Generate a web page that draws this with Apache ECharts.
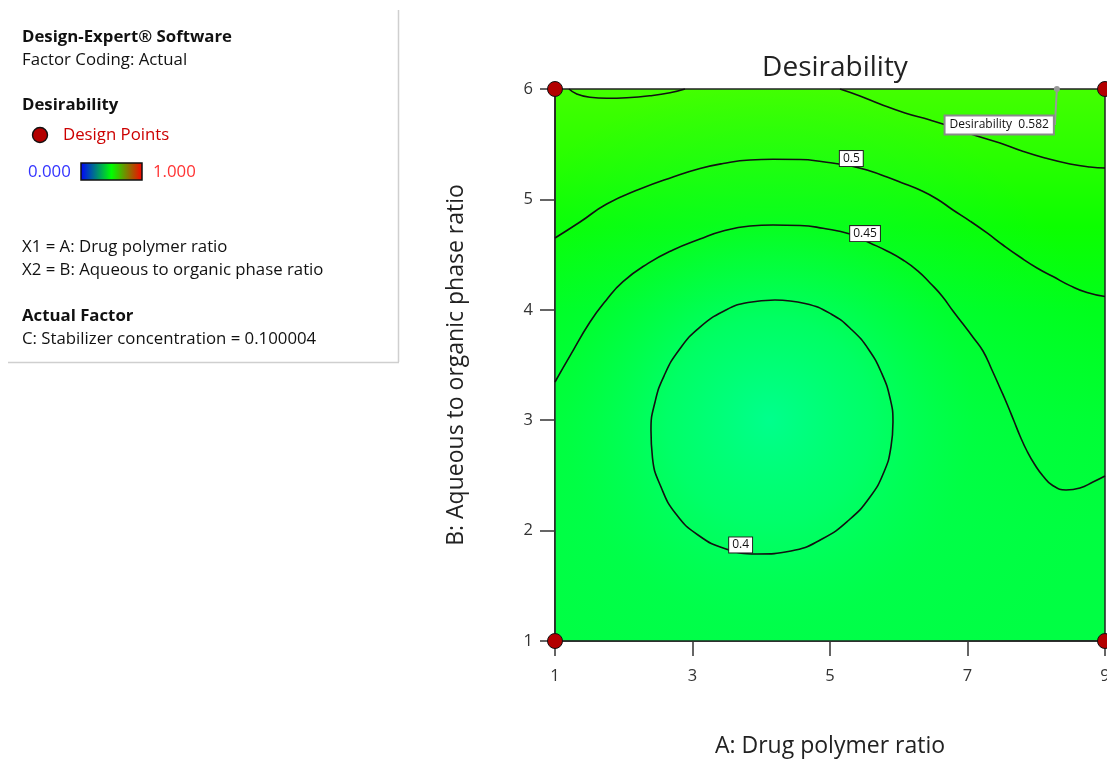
<!DOCTYPE html>
<html>
<head>
<meta charset="utf-8">
<script src="https://cdn.jsdelivr.net/npm/echarts@6/dist/echarts.min.js"></script>
<style>
  html, body { margin: 0; padding: 0; background: #fff; }
  #chart { width: 1107px; height: 762px; }
</style>
</head>
<body>
<div id="chart"></div>
<script>
// ---------- data ----------
const chartTitle = 'Desirability';
const xAxisName = 'A: Drug polymer ratio';
const yAxisName = 'B: Aqueous to organic phase ratio';
const xRange = [1, 9], xStep = 2;
const yRange = [1, 6], yStep = 1;

const designPoints = [[1, 6], [9, 6], [1, 1], [9, 1]];

// contour lines, (A, B) pairs
const contour055Left = [[1.204, 6.0], [1.316, 5.955], [1.509, 5.925], [1.752, 5.916], [2.043, 5.921],
                        [2.382, 5.939], [2.673, 5.966], [2.891, 6.0]];
const contour055Right = [[5.145, 6.0], [5.436, 5.937], [5.727, 5.864], [6.091, 5.783], [6.455, 5.719],
                         [6.818, 5.647], [7.138, 5.574], [7.473, 5.511], [7.793, 5.438], [8.127, 5.375],
                         [8.491, 5.321], [8.782, 5.293], [9.0, 5.284]];
const contour050 = [[1.0, 4.650], [1.364, 4.795], [1.752, 4.958], [2.236, 5.094], [2.716, 5.203], [3.109, 5.280],
                    [3.444, 5.325], [3.836, 5.357], [4.171, 5.363], [4.564, 5.361], [4.898, 5.341], [5.305, 5.303],
                    [5.582, 5.257], [5.829, 5.203], [6.091, 5.139], [6.309, 5.085], [6.556, 5.004], [6.789, 4.904],
                    [7.036, 4.804], [7.284, 4.696], [7.516, 4.587], [7.764, 4.478], [8.011, 4.379], [8.244, 4.301],
                    [8.491, 4.219], [8.738, 4.156], [9.0, 4.120]];
const contour045 = [[1.0, 3.346], [1.218, 3.582], [1.509, 3.889], [1.742, 4.085], [1.989, 4.255], [2.353, 4.420],
                    [2.716, 4.542], [3.109, 4.641], [3.444, 4.714], [3.836, 4.759], [4.171, 4.768], [4.564, 4.764],
                    [4.898, 4.738], [5.291, 4.687], [5.582, 4.605], [5.829, 4.533], [6.062, 4.451], [6.280, 4.351],
                    [6.455, 4.243], [6.629, 4.125], [6.789, 3.989], [6.935, 3.871], [7.080, 3.752], [7.225, 3.627],
                    [7.356, 3.455], [7.473, 3.292], [7.575, 3.147], [7.676, 2.993], [7.764, 2.857], [7.865, 2.721],
                    [7.982, 2.594], [8.098, 2.495], [8.229, 2.413], [8.433, 2.368], [8.636, 2.386], [8.825, 2.440],
                    [9.0, 2.495]];
const contour040 = [[4.200, 4.089], [4.636, 4.057], [5.015, 3.962], [5.320, 3.817], [5.567, 3.636], [5.756, 3.419],
                    [5.873, 3.201], [5.916, 2.984], [5.887, 2.758], [5.785, 2.531], [5.582, 2.304], [5.276, 2.096],
                    [4.884, 1.924], [4.433, 1.815], [3.938, 1.788], [3.487, 1.833], [3.080, 1.960], [2.760, 2.150],
                    [2.542, 2.395], [2.418, 2.658], [2.396, 2.911], [2.455, 3.165], [2.585, 3.400], [2.804, 3.636],
                    [3.109, 3.844], [3.487, 3.998], [3.807, 4.066], [4.200, 4.089]];
const contourLabelPos = [[5.31, 5.37], [5.51, 4.69], [3.70, 1.87]];
const contourLabelText = ['0.5', '0.45', '0.4'];

const flagPoint = [8.3, 6];
const flagText = 'Desirability  0.582';

const legendLines = [
  { text: 'Design-Expert® Software', bold: true, y: 37 },
  { text: 'Factor Coding: Actual', bold: false, y: 60 },
  { text: 'Desirability', bold: true, y: 105 },
  { text: 'X1 = A: Drug polymer ratio', bold: false, y: 247 },
  { text: 'X2 = B: Aqueous to organic phase ratio', bold: false, y: 270 },
  { text: 'Actual Factor', bold: true, y: 316 },
  { text: 'C: Stabilizer concentration = 0.100004', bold: false, y: 339 }
];
const rampLow = '0.000', rampHigh = '1.000';
const designLabel = 'Design Points';

// ---------- chart ----------
const FONT = '"Open Sans", "Noto Sans", sans-serif';
const PANEL_SIZE = 16.8;
const chart = echarts.init(document.getElementById('chart'), null, { renderer: 'canvas' });

function panelText(txt, x, y, color, bold) {
  return {
    type: 'text', x: x, y: y,
    style: { text: txt, fill: color, font: (bold ? 'bold ' : '') + PANEL_SIZE + 'px ' + FONT,
             verticalAlign: 'middle', align: 'left' }
  };
}
const panelGraphics = legendLines.map(l => panelText(l.text, 22, l.y, '#111', l.bold));
panelGraphics.push(
  { type: 'circle', shape: { cx: 40, cy: 135, r: 7.5 }, style: { fill: '#b30000', stroke: '#111', lineWidth: 1.4 } },
  panelText(designLabel, 63, 135, '#cc0000', false),
  panelText(rampLow, 28, 172, '#3333ff', false),
  { type: 'rect', shape: { x: 81, y: 163, width: 61, height: 17 },
    style: { stroke: '#111', lineWidth: 1.5,
      fill: new echarts.graphic.LinearGradient(0, 0, 1, 0, [
        { offset: 0, color: '#0000ff' }, { offset: 0.5, color: '#00ff00' }, { offset: 1, color: '#ff0000' }]) } },
  panelText(rampHigh, 153, 172, '#ff3333', false),
  { type: 'line', shape: { x1: 398.5, y1: 10, x2: 398.5, y2: 362 }, style: { stroke: '#cfcfcf', lineWidth: 1.5 } },
  { type: 'line', shape: { x1: 8, y1: 362.5, x2: 399, y2: 362.5 }, style: { stroke: '#cfcfcf', lineWidth: 1.5 } }
);

function contourSeries(data) {
  return {
    type: 'line', data: data, smooth: 0.5, symbol: 'none', clip: true, z: 3,
    lineStyle: { color: '#111', width: 1.6 }, silent: true
  };
}

const option = {
  animation: false,
  backgroundColor: '#ffffff',
  title: {
    text: chartTitle, left: 830, top: 49, textAlign: 'center',
    textStyle: { fontFamily: FONT, fontSize: 28, fontWeight: 'normal', color: '#222' }
  },
  grid: {
    left: 555, top: 89, right: 2, bottom: 121, show: true,
    outerBoundsMode: 'none', containLabel: false,
    borderColor: '#222', borderWidth: 1.5,
    backgroundColor: new echarts.graphic.LinearGradient(0, 0, 0, 1, [
      { offset: 0, color: '#44ff00' },
      { offset: 0.12, color: '#2aff00' },
      { offset: 0.25, color: '#0cff00' },
      { offset: 0.4, color: '#00ff1c' },
      { offset: 0.6, color: '#00ff34' },
      { offset: 0.8, color: '#00ff40' },
      { offset: 1, color: '#00ff44' }
    ])
  },
  xAxis: {
    type: 'value', min: xRange[0], max: xRange[1], interval: xStep,
    name: xAxisName, nameLocation: 'middle', nameGap: 94,
    nameTextStyle: { fontFamily: FONT, fontSize: 23, color: '#222' },
    axisLine: { show: true, lineStyle: { color: '#222', width: 1.5 } },
    axisTick: { show: true, inside: false, length: 15, lineStyle: { color: '#333', width: 1.5 } },
    axisLabel: { margin: 27, fontFamily: FONT, fontSize: 16.5, color: '#333' },
    splitLine: { show: false }
  },
  yAxis: {
    type: 'value', min: yRange[0], max: yRange[1], interval: yStep,
    name: yAxisName, nameLocation: 'middle', nameGap: 87,
    nameTextStyle: { fontFamily: FONT, fontSize: 23, color: '#222' },
    axisLine: { show: true, lineStyle: { color: '#222', width: 1.5 } },
    axisTick: { show: true, inside: false, length: 15, lineStyle: { color: '#333', width: 1.5 } },
    axisLabel: { margin: 22, fontFamily: FONT, fontSize: 16.5, color: '#333' },
    splitLine: { show: false }
  },
  graphic: panelGraphics,
  series: [
    // radial glow around the low region of the surface
    {
      type: 'line', data: [], silent: true, z: 1,
      markArea: {
        silent: true,
        itemStyle: {
          opacity: 1,
          color: new echarts.graphic.RadialGradient(0.39, 0.6, 0.62, [
            { offset: 0, color: 'rgba(0,255,140,1)' },
            { offset: 0.3, color: 'rgba(0,255,120,0.75)' },
            { offset: 0.6, color: 'rgba(0,255,90,0.3)' },
            { offset: 1, color: 'rgba(0,255,70,0)' }
          ])
        },
        data: [[{ coord: [xRange[0], yRange[0]] }, { coord: [xRange[1], yRange[1]] }]]
      }
    },
    contourSeries(contour055Left),
    contourSeries(contour055Right),
    contourSeries(contour050),
    contourSeries(contour045),
    contourSeries(contour040),
    {
      type: 'scatter', z: 5, symbolSize: 0, silent: true,
      itemStyle: { opacity: 1 },
      data: contourLabelPos.map((p, i) => ({ value: p, name: contourLabelText[i] })),
      label: {
        show: true, position: 'inside', formatter: '{b}', opacity: 1,
        fontFamily: FONT, fontSize: 12, color: '#111',
        backgroundColor: '#ffffff', borderColor: '#222', borderWidth: 1, padding: [2, 3, 1, 3]
      }
    },
    {
      type: 'scatter', z: 6, clip: false, silent: true,
      data: designPoints, symbol: 'circle', symbolSize: 15,
      itemStyle: { color: '#b30000', borderColor: '#111', borderWidth: 1, opacity: 1 }
    },
    {
      type: 'scatter', z: 7, clip: false, silent: true,
      data: [{ value: flagPoint, name: flagText }], symbol: 'circle', symbolSize: 6,
      itemStyle: { color: '#999', opacity: 1 },
      label: {
        show: true, position: 'inside', align: 'right', formatter: '{b}', opacity: 1,
        fontFamily: FONT, fontSize: 12, color: '#111',
        backgroundColor: '#ffffff', borderColor: '#8a8a8a', borderWidth: 2, padding: [3, 4, 2, 4]
      },
      labelLayout: { dx: -4, dy: 36 },
      labelLine: { show: true, lineStyle: { color: '#999', width: 2, opacity: 1 } }
    }
  ]
};
chart.setOption(option);
</script>
</body>
</html>
